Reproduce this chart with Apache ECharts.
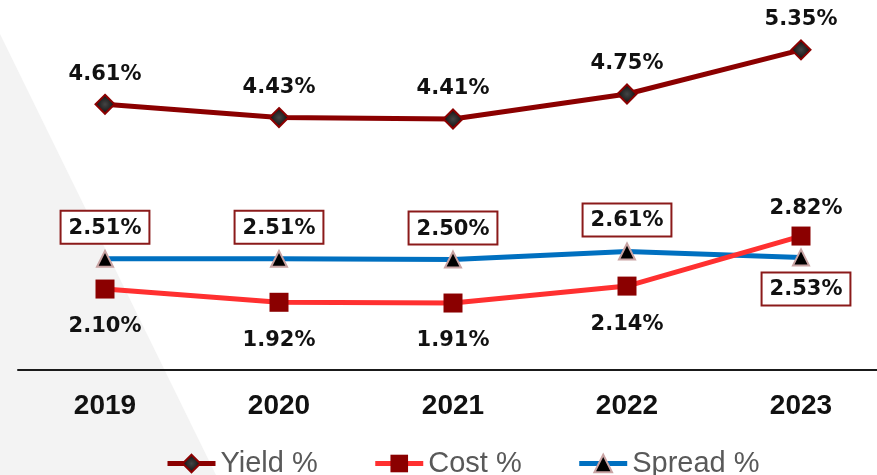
<!DOCTYPE html>
<html>
<head>
<meta charset="utf-8">
<script src="https://cdn.jsdelivr.net/npm/echarts@6/dist/echarts.min.js"></script>
<style>
  html, body { margin: 0; padding: 0; background: #ffffff; overflow: hidden; }
  #chart { width: 888px; height: 475px; }
</style>
</head>
<body>
<div id="chart"></div>
<script>
// Net interest margin components, 2019–2023
const years = ['2019', '2020', '2021', '2022', '2023'];
const yieldPct = [4.61, 4.43, 4.41, 4.75, 5.35];
const costPct = [2.10, 1.92, 1.91, 2.14, 2.82];
const spreadPct = [2.51, 2.51, 2.50, 2.61, 2.53];

const labelFont = {
  fontFamily: 'DejaVu Sans',
  fontWeight: 'bold',
  fontSize: 21,
  color: '#111111'
};

const pct = p => p.value.toFixed(2) + '%';

// Cost: labels below, except the last point which sits above
const costData = costPct.map((v, i) => {
  if (i === costPct.length - 1) {
    return { value: v, label: { position: 'top', distance: 8, offset: [5, 0] } };
  }
  return { value: v };
});

// Spread: boxed labels above, except the last point which goes below
const spreadData = spreadPct.map((v, i) => {
  if (i === spreadPct.length - 1) {
    return { value: v, label: { position: 'bottom', offset: [5, 0] } };
  }
  return { value: v };
});

const chart = echarts.init(document.getElementById('chart'), null, { renderer: 'canvas' });

chart.setOption({
  backgroundColor: '#ffffff',
  animation: false,
  graphic: [{
    type: 'polygon',
    z: -10,
    silent: true,
    shape: { points: [[0, 34], [216, 475], [0, 475]] },
    style: { fill: '#f3f3f3' }
  }],
  grid: { left: 18, right: 0, top: 2, bottom: 105 },
  xAxis: {
    type: 'category',
    data: years,
    boundaryGap: true,
    axisLine: { show: true, lineStyle: { color: '#1a1a1a', width: 2 } },
    axisTick: { show: false },
    axisLabel: {
      margin: 22,
      fontFamily: 'Liberation Sans',
      fontWeight: 'bold',
      fontSize: 28,
      color: '#111111'
    },
    splitLine: { show: false }
  },
  yAxis: {
    type: 'value',
    min: 1,
    max: 6,
    show: false,
    splitLine: { show: false }
  },
  legend: {
    top: 444,
    left: 160,
    itemWidth: 48,
    itemHeight: 22,
    itemGap: 55,
    textStyle: {
      fontFamily: 'Liberation Sans',
      fontSize: 29,
      color: '#595959'
    },
    data: [
      { name: 'Yield %', lineStyle: { width: 5 } },
      { name: 'Cost %', lineStyle: { width: 5 } },
      { name: 'Spread %', lineStyle: { width: 5 } }
    ]
  },
  series: [
    {
      name: 'Yield %',
      type: 'line',
      data: yieldPct,
      symbol: 'diamond',
      symbolSize: 19,
      lineStyle: { color: '#8b0000', width: 5 },
      itemStyle: {
        color: {
          type: 'radial', x: 0.5, y: 0.5, r: 0.6,
          colorStops: [{ offset: 0, color: '#444444' }, { offset: 1, color: '#000000' }]
        },
        borderColor: '#8b0000',
        borderWidth: 2
      },
      label: Object.assign({ show: true, position: 'top', distance: 9, formatter: pct }, labelFont),
      z: 3
    },
    {
      name: 'Cost %',
      type: 'line',
      data: costData,
      symbol: 'rect',
      symbolSize: 19,
      lineStyle: { color: '#ff3030', width: 5 },
      itemStyle: { color: '#8b0000', borderColor: '#8b0000', borderWidth: 0 },
      label: Object.assign({ show: true, position: 'bottom', distance: 18, formatter: pct }, labelFont),
      z: 4
    },
    {
      name: 'Spread %',
      type: 'line',
      data: spreadData,
      symbol: 'triangle',
      symbolSize: 16,
      lineStyle: { color: '#0070c0', width: 5 },
      itemStyle: { color: '#000000', borderColor: '#c9a3a3', borderWidth: 2 },
      label: Object.assign({
        show: true,
        position: 'top',
        distance: 7,
        formatter: pct,
        backgroundColor: '#ffffff',
        borderColor: '#8b1a1a',
        borderWidth: 2,
        padding: [6, 7, 4, 7]
      }, labelFont),
      z: 3
    }
  ]
});
</script>
</body>
</html>
